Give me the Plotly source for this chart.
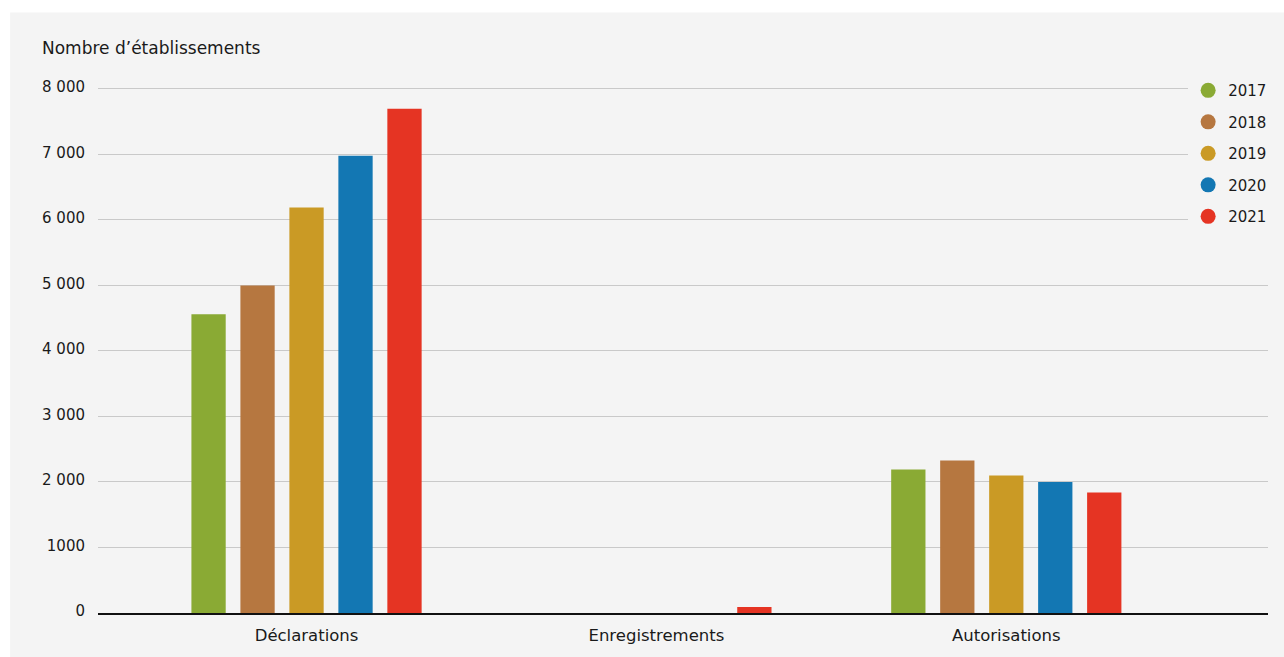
import plotly.graph_objects as go

# Categories and yearly counts of establishments
categories = ["Déclarations", "Enregistrements", "Autorisations"]
years = ["2017", "2018", "2019", "2020", "2021"]
counts_2017 = [4560, 0, 2190]
counts_2018 = [5000, 0, 2330]
counts_2019 = [6190, 0, 2100]
counts_2020 = [6980, 0, 2000]
counts_2021 = [7700, 90, 1840]

tick_values = [0, 1000, 2000, 3000, 4000, 5000, 6000, 7000, 8000]
tick_labels = ["0", "1000", "2 000", "3 000", "4 000", "5 000", "6 000", "7 000", "8 000"]

colors = ["#8aaa34", "#b67740", "#ca9a25", "#1377b3", "#e53423"]
series = [counts_2017, counts_2018, counts_2019, counts_2020, counts_2021]

FONT = "DejaVu Sans, sans-serif"
TEXT = "#1a1a1a"
PANEL = "#f4f4f4"

fig = go.Figure()

for year, values, color in zip(years, series, colors):
    fig.add_trace(go.Bar(
        x=categories, y=values, name=year,
        marker=dict(color=color, line=dict(width=0)),
        showlegend=False, hoverinfo="x+y+name",
    ))

# Round legend markers
for year, color in zip(years, colors):
    fig.add_trace(go.Scatter(
        x=[None], y=[None], mode="markers", name=year,
        legendgroup=year,
        marker=dict(color=color, size=15, symbol="circle"),
    ))

W, H = 1284, 657
L, R, T, B = 98, 14, 86, 40
pw = W - L - R
ph = H - T - B
Y_TOP = 8000 * ph / 528  # keeps 8 000 just below the top edge, with a little headroom

def px_x(px):
    return (px - L) / pw

def px_y(py):
    return (H - B - py) / ph

fig.update_layout(
    width=W, height=H,
    margin=dict(l=L, r=R, t=T, b=B, pad=0),
    paper_bgcolor="white",
    plot_bgcolor=PANEL,
    font=dict(family=FONT, size=15, color=TEXT),
    barmode="group",
    bargap=0.30,
    bargroupgap=0.30,
    xaxis=dict(
        range=[-0.596, 2.748],
        showgrid=False, zeroline=False,
        showline=True, linecolor="#111111", linewidth=1.6,
        ticks="", tickfont=dict(size=16.5, color=TEXT),
        ticklabelstandoff=6,
    ),
    yaxis=dict(
        range=[0, Y_TOP],
        tickvals=tick_values, ticktext=tick_labels,
        showgrid=True, gridcolor="#c9c9c9", gridwidth=1,
        zeroline=False, showline=False,
        ticks="", tickfont=dict(size=15, color=TEXT),
        ticklabelstandoff=12,
        ticklabelshift=-2,
    ),
    legend=dict(
        x=px_x(1190), xanchor="left",
        y=px_y(74), yanchor="top",
        bgcolor=PANEL, borderwidth=0,
        font=dict(size=15, color=TEXT),
        tracegroupgap=9,
        itemwidth=30,
    ),
    shapes=[dict(
        type="rect", xref="paper", yref="paper", layer="below",
        x0=px_x(10), x1=px_x(1290), y0=px_y(670), y1=px_y(12),
        fillcolor=PANEL, line=dict(width=0),
    )],
    annotations=[dict(
        text="Nombre d’établissements", xref="paper", yref="paper",
        x=px_x(40), y=px_y(48), xanchor="left", yanchor="middle",
        showarrow=False, font=dict(size=17, color=TEXT),
    )],
)

fig.write_html("out.html")
